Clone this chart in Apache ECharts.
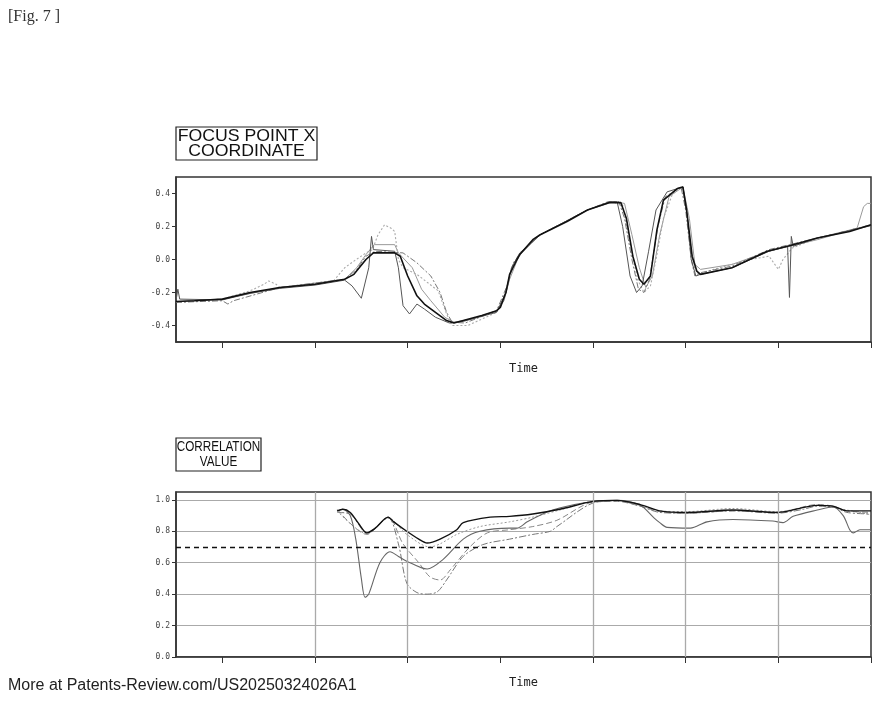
<!DOCTYPE html>
<html>
<head>
<meta charset="utf-8">
<script src="https://cdn.jsdelivr.net/npm/echarts@6/dist/echarts.min.js"></script>
<style>
html,body{margin:0;padding:0;background:#fff;}
#chart{width:880px;height:703px;}
</style>
</head>
<body>
<div id="chart"></div>
<script>
// ---------- DATA ----------
const timeTicks = [50,150,250,350,450,550,650,750];
const focusTicks = [-0.4,-0.2,0.0,0.2,0.4];
const corrTicks = [0.0,0.2,0.4,0.6,0.8,1.0];
const corrThreshold = 0.7;
const corrGridTimes = [150,250,450,550,650];

const focusA = [[0,-0.255],[20,-0.25],[50,-0.24],[80,-0.2],[112,-0.17],[150,-0.15],[182,-0.12],[192,-0.09],[205,0.0],[213,0.04],[236,0.04],[242,0.02],[250,-0.1],[260,-0.22],[268,-0.27],[280,-0.32],[292,-0.37],[300,-0.385],[310,-0.37],[330,-0.34],[346,-0.31],[350,-0.29],[356,-0.2],[360,-0.09],[368,0.0],[371,0.03],[385,0.12],[393,0.15],[422,0.23],[444,0.3],[468,0.345],[480,0.345],[486,0.25],[493,0.02],[500,-0.12],[505,-0.15],[512,-0.1],[519,0.18],[526,0.36],[541,0.43],[547,0.44],[551,0.3],[557,0.02],[562,-0.07],[566,-0.09],[600,-0.05],[638,0.05],[663,0.085],[692,0.13],[727,0.17],[750,0.21]];
const focusB = [[0,-0.25],[2,-0.18],[4,-0.24],[50,-0.245],[80,-0.205],[112,-0.175],[150,-0.155],[182,-0.125],[190,-0.16],[200,-0.235],[208,-0.05],[211,0.14],[213,0.06],[236,0.05],[240,-0.05],[245,-0.28],[252,-0.33],[260,-0.27],[268,-0.3],[280,-0.35],[295,-0.385],[310,-0.375],[346,-0.32],[356,-0.2],[362,-0.05],[371,0.04],[393,0.15],[444,0.3],[468,0.35],[476,0.35],[482,0.2],[490,-0.1],[497,-0.2],[503,-0.16],[510,0.05],[518,0.3],[530,0.41],[547,0.44],[552,0.25],[556,0.0],[561,-0.1],[566,-0.09],[600,-0.05],[640,0.05],[660,0.08],[662,-0.23],[664,0.14],[666,0.08],[692,0.13],[750,0.205]];
const focusC = [[0,-0.26],[50,-0.25],[56,-0.27],[62,-0.25],[112,-0.17],[182,-0.12],[195,-0.06],[205,0.02],[215,0.05],[245,0.04],[260,-0.02],[275,-0.1],[285,-0.2],[292,-0.32],[298,-0.38],[312,-0.385],[346,-0.31],[358,-0.15],[364,-0.02],[372,0.04],[393,0.15],[444,0.3],[466,0.35],[478,0.35],[484,0.25],[492,0.0],[499,-0.18],[505,-0.2],[511,-0.12],[520,0.2],[528,0.38],[545,0.44],[550,0.3],[556,0.0],[560,-0.1],[566,-0.08],[600,-0.04],[640,0.06],[692,0.13],[750,0.21]];
const focusD = [[0,-0.26],[50,-0.24],[80,-0.19],[95,-0.15],[100,-0.13],[108,-0.15],[112,-0.17],[150,-0.15],[170,-0.13],[182,-0.05],[192,-0.01],[205,0.04],[212,0.06],[218,0.15],[225,0.21],[232,0.19],[236,0.17],[240,0.0],[245,-0.05],[260,-0.09],[283,-0.19],[292,-0.33],[298,-0.4],[315,-0.4],[346,-0.32],[356,-0.2],[364,-0.03],[374,0.05],[393,0.15],[444,0.3],[470,0.35],[482,0.33],[490,0.1],[498,-0.12],[505,-0.2],[512,-0.16],[518,0.0],[526,0.25],[536,0.4],[547,0.44],[553,0.2],[558,-0.03],[563,-0.09],[580,-0.06],[620,0.0],[640,0.02],[650,-0.06],[655,0.0],[665,0.07],[692,0.13],[750,0.21]];
const focusE = [[0,-0.255],[50,-0.24],[112,-0.17],[182,-0.12],[195,-0.05],[205,0.03],[214,0.09],[236,0.09],[240,0.04],[255,-0.05],[265,-0.18],[275,-0.25],[290,-0.35],[300,-0.38],[320,-0.36],[346,-0.31],[354,-0.25],[360,-0.12],[370,0.02],[393,0.15],[444,0.3],[472,0.35],[484,0.34],[492,0.15],[500,-0.05],[507,-0.17],[514,-0.1],[522,0.15],[532,0.38],[547,0.44],[554,0.25],[560,-0.03],[566,-0.06],[600,-0.03],[640,0.05],[692,0.12],[735,0.19],[742,0.32],[746,0.34],[750,0.34]];

const corrA = [[174,0.93],[180,0.94],[188,0.92],[197,0.85],[206,0.79],[215,0.82],[229,0.89],[235,0.86],[249,0.80],[262,0.75],[271,0.725],[285,0.75],[303,0.81],[310,0.855],[339,0.89],[360,0.895],[385,0.91],[414,0.94],[450,0.99],[476,0.997],[501,0.97],[522,0.93],[551,0.92],[601,0.935],[649,0.92],[692,0.965],[709,0.96],[724,0.93],[750,0.93]];
const corrB = [[174,0.93],[180,0.94],[188,0.9],[194,0.75],[200,0.5],[204,0.38],[208,0.4],[220,0.6],[231,0.67],[240,0.64],[249,0.61],[271,0.56],[288,0.62],[310,0.75],[328,0.80],[360,0.82],[368,0.82],[379,0.86],[404,0.93],[430,0.97],[450,0.99],[476,0.997],[501,0.965],[515,0.89],[522,0.855],[530,0.825],[555,0.82],[573,0.86],[601,0.875],[644,0.865],[655,0.855],[666,0.895],[692,0.935],[709,0.955],[720,0.9],[727,0.81],[731,0.79],[738,0.81],[750,0.81]];
const corrC = [[174,0.92],[188,0.91],[206,0.79],[229,0.885],[240,0.72],[249,0.47],[260,0.41],[271,0.40],[282,0.415],[292,0.49],[310,0.64],[331,0.715],[360,0.75],[385,0.78],[404,0.8],[411,0.83],[450,0.98],[476,0.995],[501,0.96],[522,0.92],[551,0.915],[601,0.93],[649,0.915],[677,0.94],[692,0.96],[709,0.955],[724,0.92],[750,0.91]];
const corrD = [[174,0.94],[206,0.78],[229,0.89],[245,0.72],[262,0.6],[274,0.51],[285,0.49],[296,0.555],[317,0.70],[336,0.79],[360,0.81],[385,0.83],[411,0.87],[450,0.985],[476,0.99],[501,0.96],[522,0.925],[551,0.915],[601,0.93],[649,0.92],[692,0.97],[709,0.96],[724,0.93],[750,0.92]];
const corrE = [[174,0.93],[206,0.785],[229,0.885],[249,0.78],[274,0.70],[285,0.72],[303,0.78],[328,0.83],[360,0.86],[385,0.89],[414,0.935],[450,0.99],[476,0.995],[501,0.965],[522,0.93],[551,0.925],[601,0.945],[649,0.925],[692,0.965],[724,0.935],[750,0.905]];

// ---------- CHART ----------
const chart = echarts.init(document.getElementById('chart'), null, {renderer:'canvas'});
const labelFont = {fontFamily:'DejaVu Sans Mono', fontSize:8, color:'#444'};
function xAxisCfg(gi, gap){
  return {
    type:'value', gridIndex:gi, min:0, max:750,
    name:'Time', nameLocation:'middle', nameGap:gap,
    nameTextStyle:{fontFamily:'DejaVu Sans Mono', fontSize:12, color:'#222'},
    axisLine:{show:true, onZero:false, lineStyle:{color:'#333', width:1.5}},
    axisTick:{show:true, inside:false, length:6, customValues:timeTicks, lineStyle:{color:'#333', width:1}},
    axisLabel:{show:false},
    splitLine:{show:false}
  };
}
function lineS(name, data, xi, color, width, type, smooth){
  return {name:name, type:'line', xAxisIndex:xi, yAxisIndex:xi, data:data, showSymbol:false, symbol:'none',
    smooth:smooth||false, lineStyle:{color:color, width:width, type:type}, animation:false, silent:true};
}
const option = {
  animation:false,
  grid:[
    {left:176, right:9, top:177, height:165, show:true, borderColor:'#333', borderWidth:1.5, backgroundColor:'transparent'},
    {left:176, right:9, top:492, height:165, show:true, borderColor:'#333', borderWidth:1.5, backgroundColor:'transparent'}
  ],
  xAxis:[xAxisCfg(0, 21), xAxisCfg(1, 20)],
  yAxis:[
    {type:'value', gridIndex:0, min:-0.5, max:0.5,
     axisLine:{show:true, onZero:false, lineStyle:{color:'#333', width:1.5}},
     axisTick:{show:true, length:4, customValues:focusTicks, lineStyle:{color:'#333'}},
     axisLabel:Object.assign({customValues:focusTicks, margin:6, formatter:v=>v.toFixed(1)}, labelFont),
     splitLine:{show:false}},
    {type:'value', gridIndex:1, min:0, max:1.05, interval:0.2,
     axisLine:{show:true, onZero:false, lineStyle:{color:'#333', width:1.5}},
     axisTick:{show:true, length:4, customValues:corrTicks, lineStyle:{color:'#333'}},
     axisLabel:Object.assign({customValues:corrTicks, margin:6, formatter:v=>v.toFixed(1)}, labelFont),
     splitLine:{show:true, lineStyle:{color:'#aaa', width:1.2}}}
  ],
  series:[
    {type:'line', xAxisIndex:1, yAxisIndex:1, data:[], z:1, silent:true,
     markLine:{silent:true, symbol:['none','none'], label:{show:false},
       lineStyle:{color:'#aaa', width:1.3, type:'solid'},
       data:corrGridTimes.map(t=>({xAxis:t}))}},
    lineS('fE', focusE, 0, '#999', 1, 'solid'),
    lineS('fD', focusD, 0, '#aaa', 1.1, [2,2]),
    lineS('fC', focusC, 0, '#777', 1, [6,2,2,2]),
    lineS('fB', focusB, 0, '#555', 1, 'solid'),
    lineS('fA', focusA, 0, '#111', 1.6, 'solid'),
    lineS('cE', corrE, 1, '#999', 1, [2,2], 0.3),
    lineS('cD', corrD, 1, '#888', 1, [6,3], 0.3),
    lineS('cC', corrC, 1, '#777', 1, [7,2,2,2], 0.3),
    lineS('cB', corrB, 1, '#666', 1.1, 'solid', 0.3),
    Object.assign(lineS('cA', corrA, 1, '#111', 1.4, 'solid', 0.3), {
      markLine:{silent:true, symbol:['none','none'], label:{show:false},
        lineStyle:{color:'#111', width:1.3, type:[5,4]},
        data:[{yAxis:corrThreshold}]}
    })
  ],
  graphic:[
    {type:'text', left:8, top:9, style:{text:'[Fig. 7 ]', font:'16px "Liberation Serif"', fill:'#333'}},
    {type:'rect', shape:{x:176, y:127, width:141, height:33}, style:{fill:'#fff', stroke:'#222', lineWidth:1.2}},
    {type:'text', x:246.5, y:143.5, scaleX:1.04, style:{text:'FOCUS POINT X\nCOORDINATE', font:'17px "Liberation Sans"', lineHeight:15, fill:'#111', align:'center', verticalAlign:'middle'}},
    {type:'rect', shape:{x:176, y:438, width:85, height:33}, style:{fill:'#fff', stroke:'#222', lineWidth:1.2}},
    {type:'text', x:218.5, y:454.5, scaleX:0.78, style:{text:'CORRELATION\nVALUE', font:'15px "Liberation Sans"', lineHeight:15, fill:'#111', align:'center', verticalAlign:'middle'}},
    {type:'text', left:8, top:678, style:{text:'More at Patents-Review.com/US20250324026A1', font:'16px "Liberation Sans"', fill:'#222'}}
  ]
};
chart.setOption(option);
</script>
</body>
</html>
